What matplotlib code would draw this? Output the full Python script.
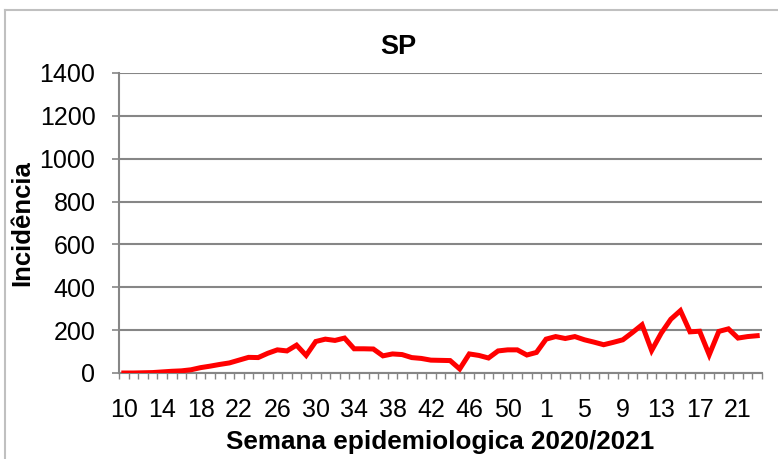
import numpy as np
import matplotlib.pyplot as plt
from matplotlib.lines import Line2D

plt.rcParams['font.family'] = ['Liberation Sans', 'DejaVu Sans']

# epidemiological weeks 10..53 of 2020, then 1..23 of 2021
weeks = list(range(10, 54)) + list(range(1, 24))
incid = [0, 0, 1, 2, 5, 8, 10, 15, 25, 32, 40, 47, 60, 73, 72, 92, 108, 103, 130, 82,
         147, 158, 152, 163, 113, 113, 112, 80, 89, 86, 72, 68, 60, 59, 58, 19, 89, 82,
         70, 103, 108, 108, 84, 96,
         158, 170, 161, 170, 155, 144, 132, 143, 155, 189, 225, 105, 186, 251, 291, 192,
         195, 85, 194, 206, 163, 170, 174]
yticks = [0, 200, 400, 600, 800, 1000, 1200, 1400]

grey = '#868686'
fig = plt.figure(figsize=(7.78, 4.59), dpi=100)
ax = fig.add_axes([119/778, 1 - 373/459, (762 - 119)/778, 300/459])

x = np.arange(len(incid))
ax.plot(x, incid, color='#ff0000', lw=3.6, solid_joinstyle='miter', zorder=3)

ax.set_xlim(-0.5, len(incid) - 0.5)
ax.set_ylim(0, 1400)
ax.set_yticks(yticks)
ax.set_yticklabels([str(v) for v in yticks], fontsize=18)
ax.grid(axis='y', color=grey, lw=1.5)
ax.set_axisbelow(True)

ax.set_xticks(x[::4])
ax.set_xticklabels([str(weeks[i]) for i in x[::4]], fontsize=18)
ax.set_xticks(np.arange(-0.5, len(incid)), minor=True)
ax.tick_params(axis='x', which='major', length=0, pad=18)
ax.tick_params(axis='x', which='minor', length=4, width=1, color=grey)
ax.tick_params(axis='y', length=5, width=1.2, color=grey, pad=12)

for s in ['top', 'right']:
    ax.spines[s].set_visible(False)
for s in ['left', 'bottom']:
    ax.spines[s].set_color(grey)
    ax.spines[s].set_linewidth(1.5)

fig.text(398/778, 1 - 47/459, 'SP', fontsize=19.5, fontweight='bold', ha='center', va='center')
fig.text(22/778, 0.515, 'Incidência', fontsize=18.5, fontweight='bold', rotation=90,
         ha='center', va='center')
fig.text(440/778, 1 - 442/459, 'Semana epidemiologica 2020/2021', fontsize=18.8,
         fontweight='bold', ha='center', va='center')

# chart frame
fig.add_artist(Line2D([5/778, 5/778], [0, 1 - 10/459], color='#c0c0c0', lw=1.5))
fig.add_artist(Line2D([5/778, 1], [1 - 10/459, 1 - 10/459], color='#c0c0c0', lw=1.5))

fig.savefig('out.png', dpi=100)
